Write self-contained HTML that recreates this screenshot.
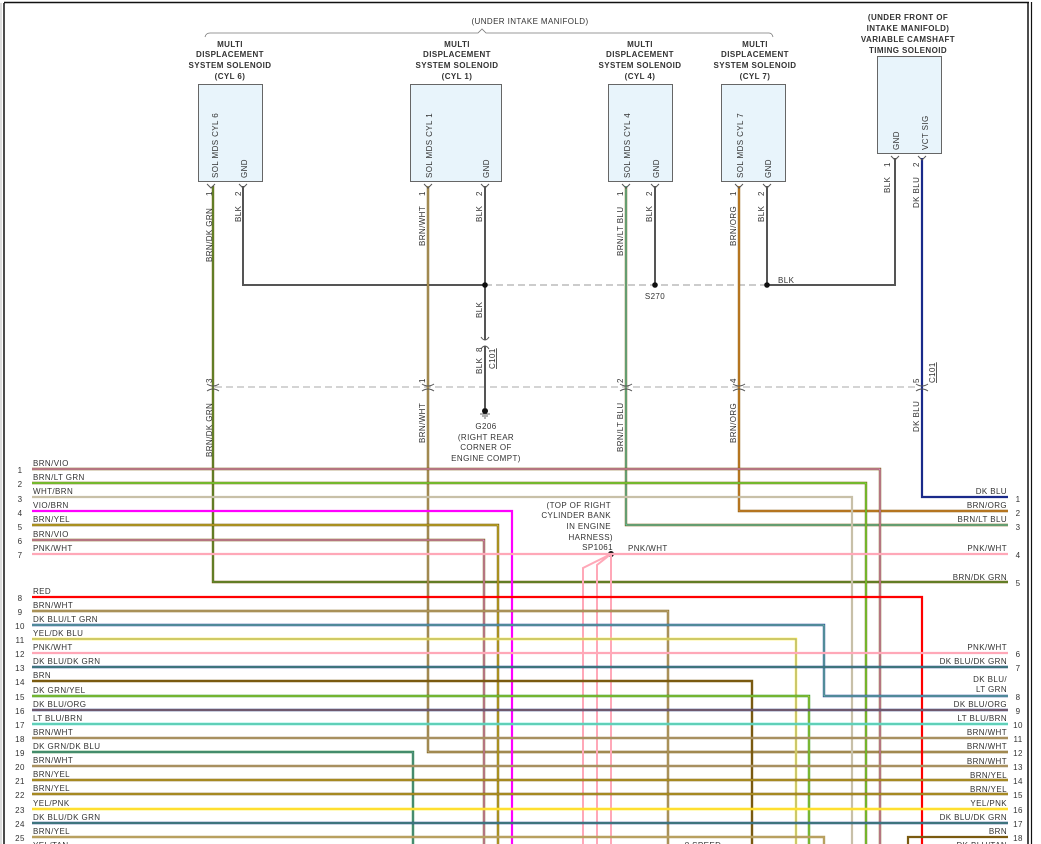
<!DOCTYPE html>
<html><head><meta charset="utf-8"><style>
html,body{margin:0;padding:0;background:#fff;}
svg{display:block;}
text{font-family:"Liberation Sans",sans-serif;font-size:8px;fill:#333;letter-spacing:0.4px;}
.c{text-anchor:middle;}
.r{text-anchor:end;}
.b{font-weight:bold;}
.w path[stroke-width="3"]{stroke-width:2.4px;}
.w path[stroke-width="2.5"]{stroke-width:2.2px;}
.w path[stroke-width="1.5"]{stroke-width:1.2px;}
.w path[stroke-width="1.2"]{stroke-width:1px;}
</style></head><body>
<svg width="1041" height="844" viewBox="0 0 1041 844" xmlns="http://www.w3.org/2000/svg">
<rect width="1041" height="844" fill="#fff"/>
<line x1="1" y1="3" x2="1" y2="844" stroke="#bbb" stroke-width="1"/>
<line x1="4" y1="3" x2="4" y2="844" stroke="#111" stroke-width="1.5"/>
<line x1="4" y1="2.5" x2="1029" y2="2.5" stroke="#111" stroke-width="1.5"/>
<line x1="1028" y1="2" x2="1028" y2="844" stroke="#111" stroke-width="1.5"/>
<line x1="1031.5" y1="2" x2="1031.5" y2="844" stroke="#111" stroke-width="1.2"/>

<text x="530" y="24" class="c">(UNDER INTAKE MANIFOLD)</text>
<path d="M205 37 Q206 33 210 33 H478 L482 29 L486 33 H769 Q772 33 773 37" fill="none" stroke="#777" stroke-width="0.8"/>

<g class="b">
<text x="230" y="47" class="c">MULTI</text><text x="230" y="57" class="c">DISPLACEMENT</text><text x="230" y="68" class="c">SYSTEM SOLENOID</text><text x="230" y="79" class="c">(CYL 6)</text>
<text x="457" y="47" class="c">MULTI</text><text x="457" y="57" class="c">DISPLACEMENT</text><text x="457" y="68" class="c">SYSTEM SOLENOID</text><text x="457" y="79" class="c">(CYL 1)</text>
<text x="640" y="47" class="c">MULTI</text><text x="640" y="57" class="c">DISPLACEMENT</text><text x="640" y="68" class="c">SYSTEM SOLENOID</text><text x="640" y="79" class="c">(CYL 4)</text>
<text x="755" y="47" class="c">MULTI</text><text x="755" y="57" class="c">DISPLACEMENT</text><text x="755" y="68" class="c">SYSTEM SOLENOID</text><text x="755" y="79" class="c">(CYL 7)</text>
<text x="908" y="20" class="c">(UNDER FRONT OF</text><text x="908" y="31" class="c">INTAKE MANIFOLD)</text><text x="908" y="42" class="c">VARIABLE CAMSHAFT</text><text x="908" y="53" class="c">TIMING SOLENOID</text>
</g>

<g fill="#e8f4fb" stroke="#666" stroke-width="1">
<rect x="198.5" y="84.5" width="64" height="97"/>
<rect x="410.5" y="84.5" width="91" height="97"/>
<rect x="608.5" y="84.5" width="64" height="97"/>
<rect x="721.5" y="84.5" width="64" height="97"/>
<rect x="877.5" y="56.5" width="64" height="97"/>
</g>
<g>
<text transform="translate(218,178) rotate(-90)">SOL MDS CYL 6</text>
<text transform="translate(247,178) rotate(-90)">GND</text>
<text transform="translate(432,178) rotate(-90)">SOL MDS CYL 1</text>
<text transform="translate(489,178) rotate(-90)">GND</text>
<text transform="translate(630,178) rotate(-90)">SOL MDS CYL 4</text>
<text transform="translate(659,178) rotate(-90)">GND</text>
<text transform="translate(743,178) rotate(-90)">SOL MDS CYL 7</text>
<text transform="translate(771,178) rotate(-90)">GND</text>
<text transform="translate(899,150) rotate(-90)">GND</text>
<text transform="translate(928,150) rotate(-90)">VCT SIG</text>
</g>

<line x1="485" y1="285" x2="767" y2="285" stroke="#999" stroke-width="1" stroke-dasharray="7,4"/>
<line x1="215" y1="387" x2="918" y2="387" stroke="#aaa" stroke-width="1" stroke-dasharray="7,4"/>

<g fill="none" stroke="#555" stroke-width="2">
<path d="M243 186 V285 H485"/>
<path d="M485 186 V340"/>
<path d="M485 346 V408"/>
<path d="M655 186 V285"/>
<path d="M767 186 V285"/>
<path d="M895 158 V285 H767"/>
</g>
<g fill="#111"><circle cx="485" cy="285" r="2.8"/><circle cx="655" cy="285" r="2.8"/><circle cx="767" cy="285" r="2.8"/><circle cx="485" cy="411" r="3"/><circle cx="611" cy="554" r="3"/></g>
<path d="M480 414 H490 M482 416 H488 M484 418 H486" stroke="#333" stroke-width="0.8"/>

<g class="w" fill="none" stroke-linejoin="miter">
<path d="M213 186 V582 H1008" stroke="#7a5a10" stroke-width="3"/><path d="M213 186 V582 H1008" stroke="#4aa03a" stroke-width="1.2"/>
<path d="M428 186 V752 H1008" stroke="#7a5a10" stroke-width="3"/><path d="M428 186 V752 H1008" stroke="#c8b890" stroke-width="1"/>
<path d="M626 186 V525 H1008" stroke="#7a5a10" stroke-width="3"/><path d="M626 186 V525 H1008" stroke="#50e0d0" stroke-width="1.2"/>
<path d="M739 186 V511 H1008" stroke="#8a5a10" stroke-width="3"/><path d="M739 186 V511 H1008" stroke="#e09030" stroke-width="1"/>
<path d="M922 158 V497 H1008" stroke="#1a2a8a" stroke-width="2.2"/>

<path d="M32 469 H880 V850" stroke="#7a5a10" stroke-width="3"/><path d="M32 469 H880 V850" stroke="#f090f0" stroke-width="1"/>
<path d="M32 483 H866 V850" stroke="#7a5a10" stroke-width="3"/><path d="M32 483 H866 V850" stroke="#70f040" stroke-width="1.5"/>
<path d="M32 497 H852 V850" stroke="#c8c0a8" stroke-width="2.5"/>
<path d="M32 511 H512 V850" stroke="#ff00ff" stroke-width="2.5"/>
<path d="M32 525 H498 V850" stroke="#6a5000" stroke-width="3"/><path d="M32 525 H498 V850" stroke="#e8d040" stroke-width="1"/>
<path d="M32 540 H484 V850" stroke="#7a5a10" stroke-width="3"/><path d="M32 540 H484 V850" stroke="#f090f0" stroke-width="1"/>
<path d="M32 554 H1008" stroke="#ffa8b8" stroke-width="2.5"/>
<path d="M611 554 V850 M611 554 L597 565 V850 M611 554 L583 568 V850" stroke="#ffa8b8" stroke-width="2"/>
<path d="M32 597 H922 V850" stroke="#ff0000" stroke-width="2.2"/>
<path d="M32 611 H668 V850" stroke="#8a6a20" stroke-width="3"/><path d="M32 611 H668 V850" stroke="#c8b890" stroke-width="1"/>
<path d="M32 625 H824 V696 H1008" stroke="#2a50a0" stroke-width="3"/><path d="M32 625 H824 V696 H1008" stroke="#90e890" stroke-width="0.8"/>
<path d="M32 639 H796 V850" stroke="#ffee30" stroke-width="3"/><path d="M32 639 H796 V850" stroke="#8090c0" stroke-width="0.8"/>
<path d="M32 653 H1008" stroke="#ffa8b8" stroke-width="2.5"/>
<path d="M32 667 H1008" stroke="#2a4f8f" stroke-width="3"/><path d="M32 667 H1008" stroke="#60b060" stroke-width="0.8"/>
<path d="M32 681 H752 V850" stroke="#7a5a10" stroke-width="3"/>
<path d="M32 696 H809 V850" stroke="#2a9a2a" stroke-width="3"/><path d="M32 696 H809 V850" stroke="#f0e040" stroke-width="0.8"/>
<path d="M32 710 H1008" stroke="#2a3a80" stroke-width="3"/><path d="M32 710 H1008" stroke="#e08a50" stroke-width="0.8"/>
<path d="M32 724 H1008" stroke="#40e0d0" stroke-width="3"/><path d="M32 724 H1008" stroke="#c0a070" stroke-width="0.6"/>
<path d="M32 738 H1008" stroke="#a89060" stroke-width="3"/>
<path d="M32 752 H413 V850" stroke="#2a8a3a" stroke-width="3"/><path d="M32 752 H413 V850" stroke="#7090c0" stroke-width="0.8"/>
<path d="M32 766 H1008" stroke="#a89060" stroke-width="3"/>
<path d="M32 780 H1008" stroke="#7a5a10" stroke-width="3"/><path d="M32 780 H1008" stroke="#f0d840" stroke-width="0.8"/>
<path d="M32 794 H1008" stroke="#7a5a10" stroke-width="3"/><path d="M32 794 H1008" stroke="#f0d840" stroke-width="0.8"/>
<path d="M32 809 H1008" stroke="#ffee00" stroke-width="3"/><path d="M32 809 H1008" stroke="#ffb0c0" stroke-width="0.6"/>
<path d="M32 823 H1008" stroke="#2a4f8f" stroke-width="3"/><path d="M32 823 H1008" stroke="#60b060" stroke-width="0.8"/>
<path d="M32 837 H824 V850" stroke="#b8a060" stroke-width="3"/>
<path d="M1008 837 H908 V850" stroke="#7a5a10" stroke-width="2.5"/>
</g>

<g fill="none" stroke="#555" stroke-width="1">
<path d="M207 184 L211 188 L215 184 M239 184 L243 188 L247 184 M424 184 L428 188 L432 184 M481 184 L485 188 L489 184 M622 184 L626 188 L630 184 M651 184 L655 188 L659 184 M735 184 L739 188 L743 184 M763 184 L767 188 L771 184 M891 156 L895 160 L899 156 M918 156 L922 160 L926 156"/>
<path d="M481 337 Q485 343 489 337 M481 349 Q485 343 489 349"/>
<path d="M207 384 Q213 388 219 384 M207 391 Q213 387 219 391 M422 384 Q428 388 434 384 M422 391 Q428 387 434 391 M620 384 Q626 388 632 384 M620 391 Q626 387 632 391 M733 384 Q739 388 745 384 M733 391 Q739 387 745 391 M916 384 Q922 388 928 384 M916 391 Q922 387 928 391"/>
</g>

<g>
<text transform="translate(212,196) rotate(-90)">1</text>
<text transform="translate(212,262) rotate(-90)">BRN/DK GRN</text>
<text transform="translate(241,196) rotate(-90)">2</text>
<text transform="translate(241,222) rotate(-90)">BLK</text>
<text transform="translate(425,196) rotate(-90)">1</text>
<text transform="translate(425,246) rotate(-90)">BRN/WHT</text>
<text transform="translate(482,196) rotate(-90)">2</text>
<text transform="translate(482,222) rotate(-90)">BLK</text>
<text transform="translate(623,196) rotate(-90)">1</text>
<text transform="translate(623,256) rotate(-90)">BRN/LT BLU</text>
<text transform="translate(652,196) rotate(-90)">2</text>
<text transform="translate(652,222) rotate(-90)">BLK</text>
<text transform="translate(736,196) rotate(-90)">1</text>
<text transform="translate(736,246) rotate(-90)">BRN/ORG</text>
<text transform="translate(764,196) rotate(-90)">2</text>
<text transform="translate(764,222) rotate(-90)">BLK</text>
<text transform="translate(890,167) rotate(-90)">1</text>
<text transform="translate(890,193) rotate(-90)">BLK</text>
<text transform="translate(919,167) rotate(-90)">2</text>
<text transform="translate(919,208) rotate(-90)">DK BLU</text>
<text transform="translate(482,318) rotate(-90)">BLK</text>
<text transform="translate(482,352) rotate(-90)">8</text>
<text transform="translate(482,374) rotate(-90)">BLK</text>
<text transform="translate(495,369) rotate(-90)" text-decoration="underline">C101</text>
<text transform="translate(212,383) rotate(-90)">3</text>
<text transform="translate(425,383) rotate(-90)">1</text>
<text transform="translate(623,383) rotate(-90)">2</text>
<text transform="translate(736,383) rotate(-90)">4</text>
<text transform="translate(919,383) rotate(-90)">5</text>
<text transform="translate(935,383) rotate(-90)" text-decoration="underline">C101</text>
<text transform="translate(212,457) rotate(-90)">BRN/DK GRN</text>
<text transform="translate(425,443) rotate(-90)">BRN/WHT</text>
<text transform="translate(623,452) rotate(-90)">BRN/LT BLU</text>
<text transform="translate(736,443) rotate(-90)">BRN/ORG</text>
<text transform="translate(919,432) rotate(-90)">DK BLU</text>
</g>
<text x="778" y="283">BLK</text>
<text x="655" y="299" class="c">S270</text>
<text x="486" y="429" class="c">G206</text>
<text x="486" y="440" class="c">(RIGHT REAR</text>
<text x="486" y="450" class="c">CORNER OF</text>
<text x="486" y="461" class="c">ENGINE COMPT)</text>
<text x="611" y="508" class="r">(TOP OF RIGHT</text>
<text x="611" y="518" class="r">CYLINDER BANK</text>
<text x="611" y="529" class="r">IN ENGINE</text>
<text x="613" y="540" class="r">HARNESS)</text>
<text x="613" y="550" class="r">SP1061</text>
<text x="628" y="551">PNK/WHT</text>
<text x="703" y="848" class="c">8 SPEED</text>

<g>
<text x="33" y="466">BRN/VIO</text><text x="20" y="473" class="c">1</text>
<text x="33" y="480">BRN/LT GRN</text><text x="20" y="487" class="c">2</text>
<text x="33" y="494">WHT/BRN</text><text x="20" y="502" class="c">3</text>
<text x="33" y="508">VIO/BRN</text><text x="20" y="516" class="c">4</text>
<text x="33" y="522">BRN/YEL</text><text x="20" y="530" class="c">5</text>
<text x="33" y="537">BRN/VIO</text><text x="20" y="544" class="c">6</text>
<text x="33" y="551">PNK/WHT</text><text x="20" y="558" class="c">7</text>
<text x="33" y="594">RED</text><text x="20" y="601" class="c">8</text>
<text x="33" y="608">BRN/WHT</text><text x="20" y="615" class="c">9</text>
<text x="33" y="622">DK BLU/LT GRN</text><text x="20" y="629" class="c">10</text>
<text x="33" y="636">YEL/DK BLU</text><text x="20" y="643" class="c">11</text>
<text x="33" y="650">PNK/WHT</text><text x="20" y="657" class="c">12</text>
<text x="33" y="664">DK BLU/DK GRN</text><text x="20" y="671" class="c">13</text>
<text x="33" y="678">BRN</text><text x="20" y="685" class="c">14</text>
<text x="33" y="693">DK GRN/YEL</text><text x="20" y="700" class="c">15</text>
<text x="33" y="707">DK BLU/ORG</text><text x="20" y="714" class="c">16</text>
<text x="33" y="721">LT BLU/BRN</text><text x="20" y="728" class="c">17</text>
<text x="33" y="735">BRN/WHT</text><text x="20" y="742" class="c">18</text>
<text x="33" y="749">DK GRN/DK BLU</text><text x="20" y="756" class="c">19</text>
<text x="33" y="763">BRN/WHT</text><text x="20" y="770" class="c">20</text>
<text x="33" y="777">BRN/YEL</text><text x="20" y="784" class="c">21</text>
<text x="33" y="791">BRN/YEL</text><text x="20" y="798" class="c">22</text>
<text x="33" y="806">YEL/PNK</text><text x="20" y="813" class="c">23</text>
<text x="33" y="820">DK BLU/DK GRN</text><text x="20" y="827" class="c">24</text>
<text x="33" y="834">BRN/YEL</text><text x="20" y="841" class="c">25</text>
<text x="33" y="848">YEL/TAN</text>
</g>
<g>
<text x="1007" y="494" class="r">DK BLU</text><text x="1018" y="502" class="c">1</text>
<text x="1007" y="508" class="r">BRN/ORG</text><text x="1018" y="516" class="c">2</text>
<text x="1007" y="522" class="r">BRN/LT BLU</text><text x="1018" y="530" class="c">3</text>
<text x="1007" y="551" class="r">PNK/WHT</text><text x="1018" y="558" class="c">4</text>
<text x="1007" y="580" class="r">BRN/DK GRN</text><text x="1018" y="586" class="c">5</text>
<text x="1007" y="650" class="r">PNK/WHT</text><text x="1018" y="657" class="c">6</text>
<text x="1007" y="664" class="r">DK BLU/DK GRN</text><text x="1018" y="671" class="c">7</text>
<text x="1007" y="682" class="r">DK BLU/</text><text x="1007" y="692" class="r">LT GRN</text><text x="1018" y="700" class="c">8</text>
<text x="1007" y="707" class="r">DK BLU/ORG</text><text x="1018" y="714" class="c">9</text>
<text x="1007" y="721" class="r">LT BLU/BRN</text><text x="1018" y="728" class="c">10</text>
<text x="1007" y="735" class="r">BRN/WHT</text><text x="1018" y="742" class="c">11</text>
<text x="1007" y="749" class="r">BRN/WHT</text><text x="1018" y="756" class="c">12</text>
<text x="1007" y="764" class="r">BRN/WHT</text><text x="1018" y="770" class="c">13</text>
<text x="1007" y="778" class="r">BRN/YEL</text><text x="1018" y="784" class="c">14</text>
<text x="1007" y="792" class="r">BRN/YEL</text><text x="1018" y="798" class="c">15</text>
<text x="1007" y="806" class="r">YEL/PNK</text><text x="1018" y="813" class="c">16</text>
<text x="1007" y="820" class="r">DK BLU/DK GRN</text><text x="1018" y="827" class="c">17</text>
<text x="1007" y="834" class="r">BRN</text><text x="1018" y="841" class="c">18</text>
<text x="1007" y="848" class="r">DK BLU/TAN</text>
</g>
</svg>
</body></html>
